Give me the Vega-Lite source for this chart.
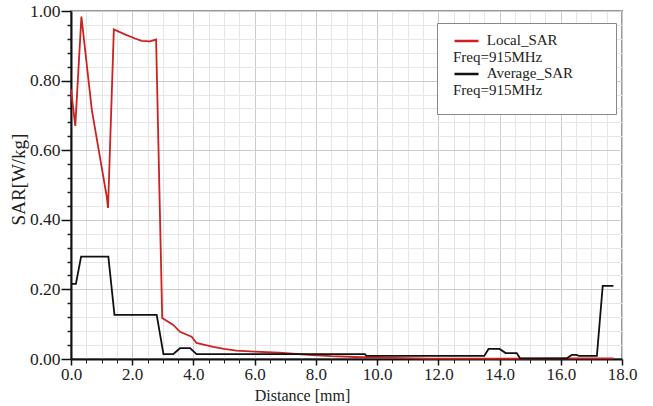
{
  "$schema": "https://vega.github.io/schema/vega-lite/v6.json",
  "width": 551,
  "height": 348,
  "autosize": "none",
  "padding": {"left": 71, "top": 11, "right": 31, "bottom": 47},
  "background": "white",
  "config": {
    "view": {"stroke": "#9a9a9a", "strokeWidth": 2},
    "font": "Liberation Serif"
  },
  "data": {
    "values": [
      {"d": 0, "v": 0.775, "s": "Local_SAR"},
      {"d": 0.14, "v": 0.67, "s": "Local_SAR"},
      {"d": 0.34, "v": 0.984, "s": "Local_SAR"},
      {"d": 0.68, "v": 0.716, "s": "Local_SAR"},
      {"d": 1.17, "v": 0.465, "s": "Local_SAR"},
      {"d": 1.21, "v": 0.434, "s": "Local_SAR"},
      {"d": 1.40, "v": 0.947, "s": "Local_SAR"},
      {"d": 1.76, "v": 0.933, "s": "Local_SAR"},
      {"d": 2.09, "v": 0.921, "s": "Local_SAR"},
      {"d": 2.31, "v": 0.914, "s": "Local_SAR"},
      {"d": 2.58, "v": 0.913, "s": "Local_SAR"},
      {"d": 2.78, "v": 0.918, "s": "Local_SAR"},
      {"d": 2.98, "v": 0.118, "s": "Local_SAR"},
      {"d": 3.34, "v": 0.098, "s": "Local_SAR"},
      {"d": 3.56, "v": 0.078, "s": "Local_SAR"},
      {"d": 3.94, "v": 0.064, "s": "Local_SAR"},
      {"d": 4.1, "v": 0.046, "s": "Local_SAR"},
      {"d": 4.4, "v": 0.04, "s": "Local_SAR"},
      {"d": 4.65, "v": 0.035, "s": "Local_SAR"},
      {"d": 5.0, "v": 0.029, "s": "Local_SAR"},
      {"d": 5.4, "v": 0.024, "s": "Local_SAR"},
      {"d": 6.0, "v": 0.021, "s": "Local_SAR"},
      {"d": 6.8, "v": 0.018, "s": "Local_SAR"},
      {"d": 7.9, "v": 0.011, "s": "Local_SAR"},
      {"d": 8.5, "v": 0.008, "s": "Local_SAR"},
      {"d": 9.5, "v": 0.005, "s": "Local_SAR"},
      {"d": 10.5, "v": 0.003, "s": "Local_SAR"},
      {"d": 11.7, "v": 0.001, "s": "Local_SAR"},
      {"d": 13.5, "v": 0.001, "s": "Local_SAR"},
      {"d": 14.7, "v": 0.001, "s": "Local_SAR"},
      {"d": 16.2, "v": 0.002, "s": "Local_SAR"},
      {"d": 17.72, "v": 0.002, "s": "Local_SAR"},
      {"d": 0, "v": 0.216, "s": "Average_SAR"},
      {"d": 0.16, "v": 0.216, "s": "Average_SAR"},
      {"d": 0.33, "v": 0.294, "s": "Average_SAR"},
      {"d": 1.22, "v": 0.294, "s": "Average_SAR"},
      {"d": 1.42, "v": 0.127, "s": "Average_SAR"},
      {"d": 2.8, "v": 0.127, "s": "Average_SAR"},
      {"d": 3.02, "v": 0.014, "s": "Average_SAR"},
      {"d": 3.34, "v": 0.014, "s": "Average_SAR"},
      {"d": 3.56, "v": 0.031, "s": "Average_SAR"},
      {"d": 3.89, "v": 0.031, "s": "Average_SAR"},
      {"d": 4.1, "v": 0.014, "s": "Average_SAR"},
      {"d": 9.6, "v": 0.014, "s": "Average_SAR"},
      {"d": 9.65, "v": 0.009, "s": "Average_SAR"},
      {"d": 13.5, "v": 0.009, "s": "Average_SAR"},
      {"d": 13.64, "v": 0.029, "s": "Average_SAR"},
      {"d": 14.0, "v": 0.029, "s": "Average_SAR"},
      {"d": 14.2, "v": 0.017, "s": "Average_SAR"},
      {"d": 14.56, "v": 0.017, "s": "Average_SAR"},
      {"d": 14.67, "v": 0.002, "s": "Average_SAR"},
      {"d": 16.2, "v": 0.002, "s": "Average_SAR"},
      {"d": 16.36, "v": 0.012, "s": "Average_SAR"},
      {"d": 16.5, "v": 0.012, "s": "Average_SAR"},
      {"d": 16.6, "v": 0.009, "s": "Average_SAR"},
      {"d": 17.18, "v": 0.009, "s": "Average_SAR"},
      {"d": 17.37, "v": 0.21, "s": "Average_SAR"},
      {"d": 17.72, "v": 0.21, "s": "Average_SAR"}
    ]
  },
  "resolve": {"axis": {"x": "independent", "y": "independent"}},
  "layer": [
    {
      "mark": {"type": "point", "opacity": 0},
      "encoding": {
        "x": {
          "field": "d", "type": "quantitative",
          "scale": {"domain": [0, 18], "nice": false, "zero": false},
          "axis": {
            "orient": "bottom",
            "values": [0.5, 1, 1.5, 2.5, 3, 3.5, 4.5, 5, 5.5, 6.5, 7, 7.5, 8.5, 9, 9.5, 10.5, 11, 11.5, 12.5, 13, 13.5, 14.5, 15, 15.5, 16.5, 17, 17.5],
            "labels": false, "domain": false, "title": null,
            "ticks": true, "tickSize": 4, "tickColor": "#222", "tickWidth": 1,
            "grid": true, "gridColor": "#e6e6e6", "gridWidth": 1
          }
        },
        "y": {
          "field": "v", "type": "quantitative",
          "scale": {"domain": [0, 1], "nice": false},
          "axis": {
            "orient": "left",
            "values": [0.04, 0.08, 0.12, 0.16, 0.24, 0.28, 0.32, 0.36, 0.44, 0.48, 0.52, 0.56, 0.64, 0.68, 0.72, 0.76, 0.84, 0.88, 0.92, 0.96],
            "labels": false, "domain": false, "title": null,
            "ticks": true, "tickSize": 4, "tickColor": "#222", "tickWidth": 1.5,
            "grid": true, "gridColor": "#e6e6e6", "gridWidth": 1
          }
        }
      }
    },
    {
      "mark": {"type": "line", "strokeWidth": 1.8},
      "encoding": {
        "x": {
          "field": "d", "type": "quantitative",
          "scale": {"domain": [0, 18], "nice": false, "zero": false},
          "axis": {
            "orient": "bottom",
            "values": [0, 2, 4, 6, 8, 10, 12, 14, 16, 18],
            "format": ".1f",
            "labelFlush": false,
            "labelFont": "Liberation Serif", "labelFontSize": 17, "labelColor": "#222",
            "labelPadding": 1,
            "domain": true, "domainColor": "#111", "domainWidth": 2,
            "ticks": true, "tickSize": 6, "tickColor": "#111", "tickWidth": 1.5,
            "grid": true, "gridColor": "#cccccc", "gridWidth": 1,
            "title": "Distance [mm]",
            "titleFont": "Liberation Serif", "titleFontSize": 16, "titleFontWeight": "normal", "titleColor": "#222",
            "titleX": 231, "titleY": 28, "titleBaseline": "top", "titleAnchor": "middle"
          }
        },
        "y": {
          "field": "v", "type": "quantitative",
          "scale": {"domain": [0, 1], "nice": false},
          "axis": {
            "orient": "left",
            "values": [0, 0.2, 0.4, 0.6, 0.8, 1.0],
            "format": ".2f",
            "labelFont": "Liberation Serif", "labelFontSize": 17.5, "labelColor": "#222",
            "labelPadding": 1,
            "domain": true, "domainColor": "#111", "domainWidth": 2,
            "ticks": true, "tickSize": 10, "tickColor": "#111", "tickWidth": 1.5,
            "grid": true, "gridColor": "#cccccc", "gridWidth": 1,
            "title": "SAR[W/kg]",
            "titleFont": "Liberation Serif", "titleFontSize": 19, "titleFontWeight": "normal", "titleColor": "#222",
            "titleX": -43, "titleY": 168
          }
        },
        "color": {
          "field": "s", "type": "nominal",
          "scale": {"domain": ["Local_SAR", "Average_SAR"], "range": ["#cc2222", "#111111"]},
          "legend": {
            "title": null,
            "orient": "none",
            "legendX": 366,
            "legendY": 12,
            "symbolType": "stroke",
            "symbolSize": 576,
            "symbolStrokeWidth": 2.5,
            "clipHeight": 4,
            "labelFont": "Liberation Serif",
            "labelFontSize": 15,
            "labelColor": "#222",
            "labelLimit": 400,
            "labelBaseline": "top",
            "labelOffset": -27,
            "labelExpr": "datum.label == 'Local_SAR' ? ['\u200b\u00a0\u00a0\u00a0\u00a0\u00a0\u00a0\u00a0\u00a0\u00a0Local_SAR', 'Freq=915MHz'] : ['\u200b\u00a0\u00a0\u00a0\u00a0\u00a0\u00a0\u00a0\u00a0\u00a0Average_SAR\u00a0\u00a0\u00a0\u00a0\u00a0\u00a0\u00a0\u200b', 'Freq=915MHz']",
            "rowPadding": 1,
            "padding": 16,
            "strokeColor": "#888888",
            "fillColor": "white",
            "encode": {
              "labels": {"update": {"dy": {"value": -8}}}
            }
          }
        },
        "order": {"field": "d", "type": "quantitative"}
      }
    }
  ]
}
